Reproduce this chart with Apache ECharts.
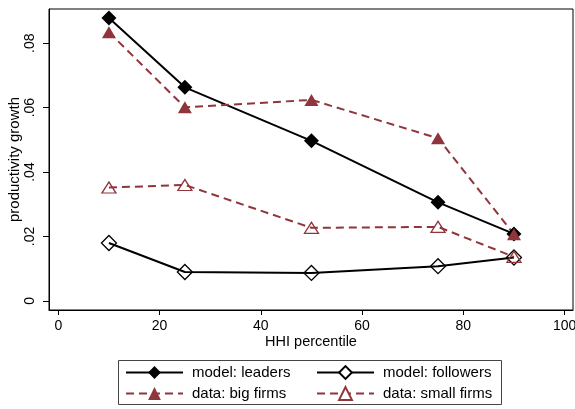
<!DOCTYPE html>
<html>
<head>
<meta charset="utf-8">
<script src="https://cdn.jsdelivr.net/npm/echarts@6/dist/echarts.min.js"></script>
<style>
  html, body { margin: 0; padding: 0; background: #fff; }
  #chart { width: 575px; height: 409px; }
</style>
</head>
<body>
<div id="chart"></div>
<script>
// HHI percentile bins
const hhiPercentile = [10, 25, 50, 75, 90];

// productivity growth by bin
const modelLeaders   = [0.0878, 0.0663, 0.0497, 0.0306, 0.0208];
const modelFollowers = [0.0180, 0.0090, 0.0087, 0.0108, 0.0135];
const dataBigFirms   = [0.0834, 0.0601, 0.0624, 0.0505, 0.0207];
const dataSmallFirms = [0.0352, 0.0360, 0.0227, 0.0230, 0.0137];

const seriesNames = ['model: leaders', 'model: followers', 'data: big firms', 'data: small firms'];

const xTicks = [0, 20, 40, 60, 80, 100];
const yTicks = [0, 0.02, 0.04, 0.06, 0.08];

const FONT = '"Liberation Sans", Arial, Helvetica, sans-serif';
const MAROON = '#90353b';

function pairs(ys) { return hhiPercentile.map((x, i) => [x, ys[i]]); }
function yLabel(v) { return v === 0 ? '0' : String(+v.toFixed(2)).replace(/^0/, ''); }

const chart = echarts.init(document.getElementById('chart'), null, { renderer: 'canvas' });

const legendBase = {
  orient: 'horizontal',
  padding: 0,
  itemWidth: 57,
  itemHeight: 16,
  selectedMode: false,
  textStyle: { fontFamily: FONT, fontSize: 15, color: '#000', padding: [0, 0, 0, 4] }
};

chart.setOption({
  animation: false,
  backgroundColor: '#fff',
  grid: {
    left: 49, right: 2, top: 9, bottom: 99,
    containLabel: false,
    outerBoundsMode: 'none',
    show: true, borderColor: '#000', borderWidth: 1, backgroundColor: '#fff'
  },
  xAxis: {
    type: 'value',
    min: -1.84, max: 101.66,
    name: 'HHI percentile',
    nameLocation: 'middle',
    nameGap: 24,
    nameMoveOverlap: false,
    nameTextStyle: { fontFamily: FONT, fontSize: 14.5, color: '#000', verticalAlign: 'top' },
    axisLine: { show: true, onZero: false, lineStyle: { color: '#000', width: 1 } },
    axisTick: { show: true, length: 5, customValues: xTicks, lineStyle: { color: '#000' } },
    axisLabel: { customValues: xTicks, margin: 9, fontFamily: FONT, fontSize: 14, color: '#000' },
    splitLine: { show: false }
  },
  yAxis: {
    type: 'value',
    min: -0.0028, max: 0.0906,
    name: 'productivity growth',
    nameLocation: 'middle',
    nameGap: 27,
    nameMoveOverlap: false,
    nameTextStyle: { fontFamily: FONT, fontSize: 15, color: '#000' },
    axisLine: { show: true, onZero: false, lineStyle: { color: '#000', width: 1 } },
    axisTick: { show: true, length: 6, customValues: yTicks, lineStyle: { color: '#000' } },
    axisLabel: {
      customValues: yTicks, rotate: 90, margin: 12,
      fontFamily: FONT, fontSize: 14, color: '#000',
      formatter: yLabel
    },
    splitLine: { show: false }
  },
  legend: [
    Object.assign({}, legendBase, { left: 125, top: 365, data: [seriesNames[0]] }),
    Object.assign({}, legendBase, { left: 316, top: 365, data: [{ name: seriesNames[1], itemStyle: { color: '#fff' } }] }),
    Object.assign({}, legendBase, { left: 125, top: 386, data: [seriesNames[2]] }),
    Object.assign({}, legendBase, { left: 316, top: 386, data: [{ name: seriesNames[3], itemStyle: { color: '#fff' } }] })
  ],
  graphic: [{
    type: 'rect',
    shape: { x: 118.5, y: 360.5, width: 383, height: 44 },
    style: { fill: 'none', stroke: '#444', lineWidth: 1 },
    silent: true
  }],
  series: [
    {
      name: seriesNames[0], type: 'line', data: pairs(modelLeaders),
      symbol: 'diamond', symbolSize: 15,
      lineStyle: { color: '#000', width: 2 },
      itemStyle: { color: '#000', borderColor: '#000', borderWidth: 0 },
      emphasis: { disabled: true }
    },
    {
      name: seriesNames[1], type: 'line', data: pairs(modelFollowers),
      symbol: 'diamond', symbolSize: 15,
      lineStyle: { color: '#000', width: 2 },
      itemStyle: { color: 'rgba(0,0,0,0)', borderColor: '#000', borderWidth: 1.3 },
      emphasis: { disabled: true }
    },
    {
      name: seriesNames[2], type: 'line', data: pairs(dataBigFirms),
      symbol: 'triangle', symbolSize: [14, 12],
      lineStyle: { color: MAROON, width: 2, type: [8, 5] },
      itemStyle: { color: MAROON, borderColor: MAROON, borderWidth: 0 },
      emphasis: { disabled: true }
    },
    {
      name: seriesNames[3], type: 'line', data: pairs(dataSmallFirms),
      symbol: 'triangle', symbolSize: [14, 11],
      lineStyle: { color: MAROON, width: 2, type: [8, 5] },
      itemStyle: { color: 'rgba(0,0,0,0)', borderColor: MAROON, borderWidth: 1.3 },
      emphasis: { disabled: true }
    }
  ]
});
</script>
</body>
</html>
